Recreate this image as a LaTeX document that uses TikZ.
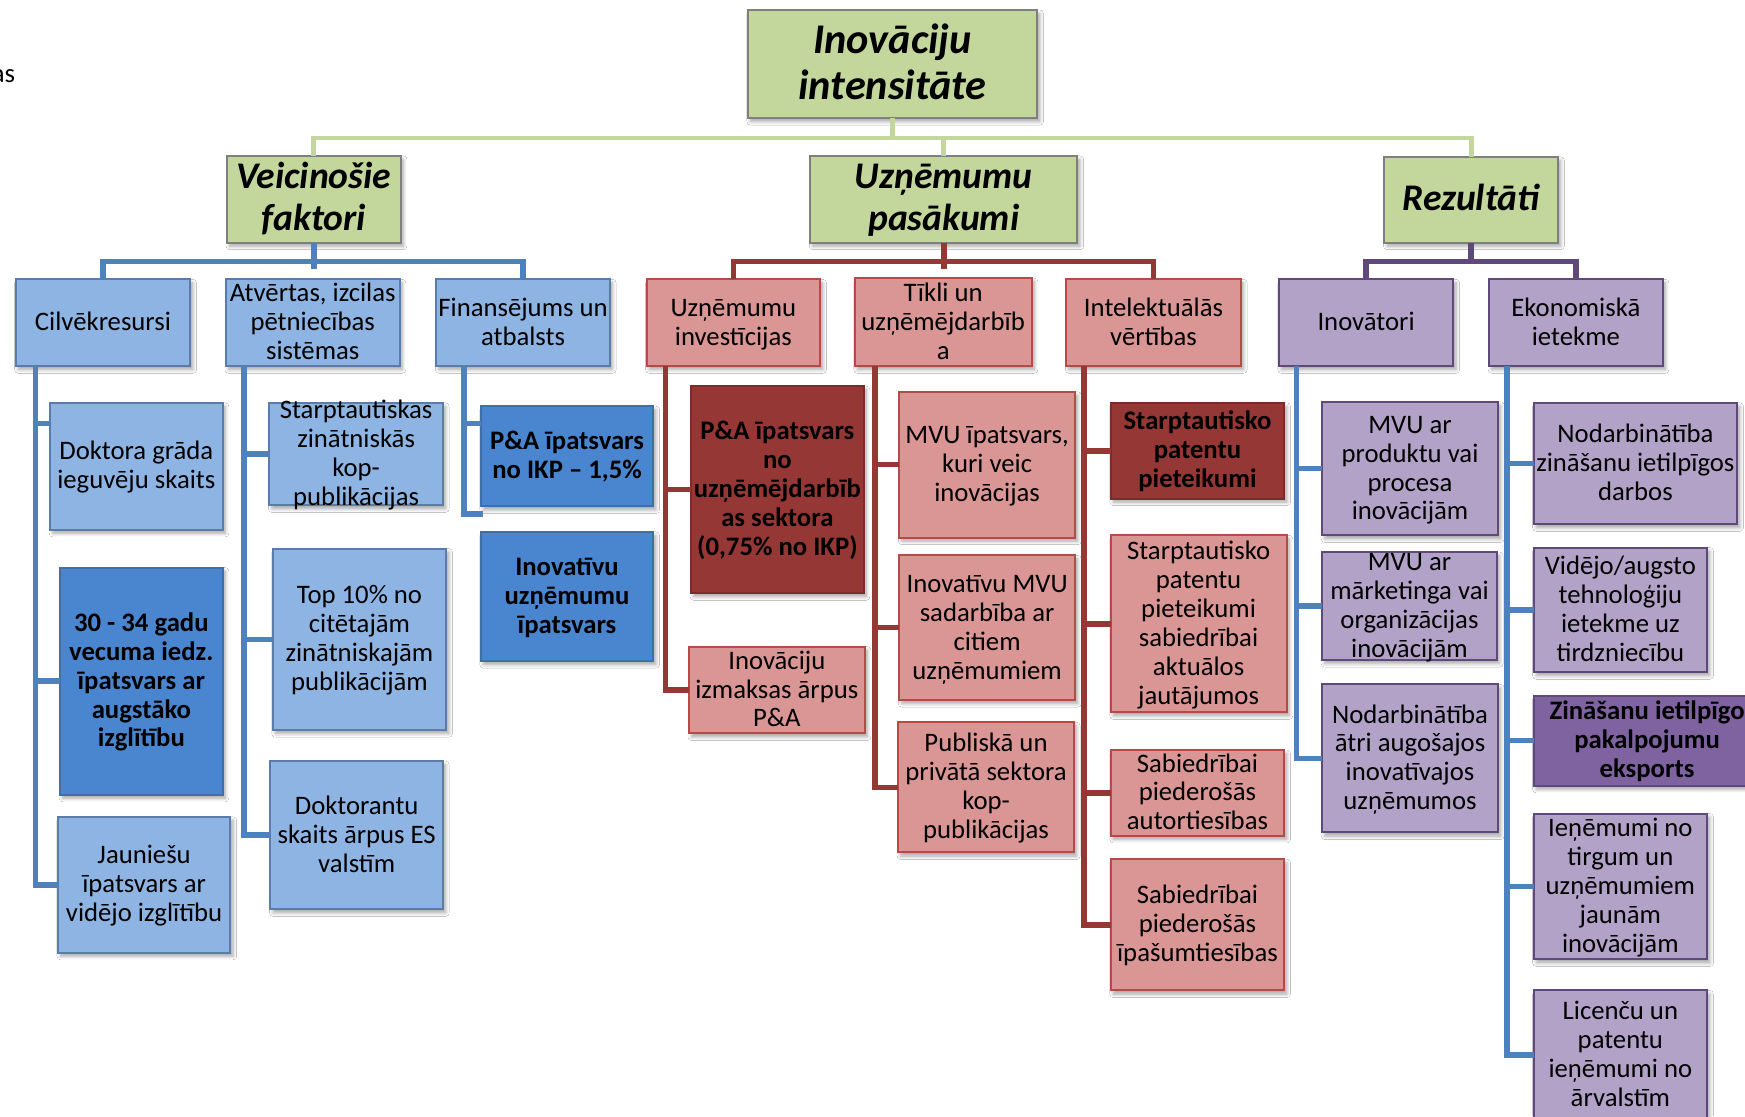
\documentclass[tikz,border=0pt]{standalone}
\usepackage{fontspec}
\setmainfont{Carlito}
\usetikzlibrary{shadows.blur}

% colours
\definecolor{grfill}{HTML}{C3D69B}
\definecolor{grline}{HTML}{C3D69B}
\definecolor{grdraw}{HTML}{7F7F7F}
\definecolor{lbfill}{HTML}{8EB4E3}
\definecolor{lbdraw}{HTML}{5A7CA8}
\definecolor{dbfill}{HTML}{4A86CF}
\definecolor{dbdraw}{HTML}{3F6FA8}
\definecolor{bluln}{HTML}{4F81BD}
\definecolor{pkfill}{HTML}{D99694}
\definecolor{pkdraw}{HTML}{B54A47}
\definecolor{drfill}{HTML}{953735}
\definecolor{drdraw}{HTML}{7A2C2A}
\definecolor{redln}{HTML}{953735}
\definecolor{lpfill}{HTML}{B3A2C7}
\definecolor{lpdraw}{HTML}{5F497A}
\definecolor{dpfill}{HTML}{7F63A1}
\definecolor{purln}{HTML}{5F497A}

\newcommand\fsmall{\fontsize{12}{13}\selectfont}
\newcommand\fhead{\fontsize{16.9}{18.5}\selectfont\bfseries\itshape}
\newcommand\ftop{\fontsize{19}{21}\selectfont\bfseries\itshape}
% centred multi-line text that never enlarges its box
\newcommand\tx[1]{\smash{\raisebox{\dimexpr-0.25em-1pt\relax}{\begin{tabular}{@{}c@{}}#1\end{tabular}}}}
% box given by its corners: style, name, x1, y1, x2, y2, text
\newcommand\boxat[7]{%
  \node[#1, minimum width={(#5-#3)*0.5pt}, minimum height={(#6-#4)*0.5pt}]
    (#2) at ({(#3+#5)/2},{(#4+#6)/2}) {\tx{#7}};}

\tikzset{
  box/.style={draw, line width=0.9pt, inner sep=0pt, outer sep=0pt,
    font=\fsmall,
    blur shadow={shadow xshift=1.2pt, shadow yshift=-1.6pt,
      shadow blur radius=1.6pt, shadow blur steps=6, shadow opacity=35}},
  green/.style={box, fill=grfill, draw=grdraw},
  lblue/.style={box, fill=lbfill, draw=lbdraw},
  dblue/.style={box, fill=dbfill, draw=dbdraw, font=\fsmall\bfseries},
  pink/.style={box, fill=pkfill, draw=pkdraw},
  dred/.style={box, fill=drfill, draw=drdraw, font=\fsmall\bfseries},
  lpurp/.style={box, fill=lpfill, draw=lpdraw},
  dpurp/.style={box, fill=dpfill, draw=lpdraw, font=\fsmall\bfseries},
  gline/.style={draw=grline, line width=2.2pt},
  bline/.style={draw=bluln, line width=2.5pt},
  rline/.style={draw=redln, line width=2.5pt},
  pline/.style={draw=purln, line width=2.5pt},
}

\begin{document}
\begin{tikzpicture}[x=0.5pt, y=-0.5pt]
\useasboundingbox[fill=white] (0,0) rectangle (1568,1003);

\node[font=\fsmall, anchor=base east, inner sep=0pt] (cut) at (14,74) {as};

\coordinate (gbus) at (0,124);
\coordinate (lbus) at (0,235);
\coordinate (stub) at (0,242);

% top levels
\boxat{green, font=\ftop}{top}{672}{9}{932}{106}{Inovāciju\\intensitāte}
\boxat{green, font=\fhead}{vf}{204}{140}{360}{218}{Veicinošie\\faktori}
\boxat{green, font=\fhead}{up}{728}{140}{968}{218}{Uzņēmumu\\pasākumi}
\boxat{green, font=\fhead}{rz}{1244}{141}{1400}{218}{Rezultāti}

% second level
\boxat{lblue}{cilv}{14}{251}{171}{329}{Cilvēkresursi}
\boxat{lblue}{atv}{203}{251}{359}{329}{Atvērtas, izcilas\\pētniecības\\sistēmas}
\boxat{lblue}{fin}{392}{251}{548}{329}{Finansējums un\\atbalsts}
\boxat{pink}{uinv}{581}{251}{737}{329}{Uzņēmumu\\investīcijas}
\boxat{pink}{tikli}{768}{250}{927}{329}{Tīkli un\\uzņēmējdarbīb\\a}
\boxat{pink}{intel}{958}{251}{1115}{329}{Intelektuālās\\vērtības}
\boxat{lpurp}{inov}{1149}{251}{1306}{329}{Inovātori}
\boxat{lpurp}{ekon}{1338}{251}{1494}{329}{Ekonomiskā\\ietekme}

% indicators: human resources
\boxat{lblue}{dok}{45}{362}{200}{476}{Doktora grāda\\ieguvēju skaits}
\boxat{dblue}{age}{54}{510}{200}{714}{30 - 34 gadu\\vecuma iedz.\\īpatsvars ar\\augstāko\\izglītību}
\boxat{lblue}{jaun}{52}{734}{207}{856}{Jauniešu\\īpatsvars ar\\vidējo izglītību}
% research systems
\boxat{lblue}{starp}{242}{362}{398}{454}{Starptautiskas\\zinātniskās\\kop-\\publikācijas}
\boxat{lblue}{top10}{245}{493}{401}{656}{Top 10\% no\\citētajām\\zinātniskajām\\publikācijām}
\boxat{lblue}{dokt}{243}{684}{398}{817}{Doktorantu\\skaits ārpus ES\\valstīm}
% finance and support
\boxat{dblue}{pa}{432}{365}{587}{455}{P\&A īpatsvars\\no IKP – 1,5\%}
\boxat{dblue}{inovu}{432}{478}{587}{594}{Inovatīvu\\uzņēmumu\\īpatsvars}
% firm investments
\boxat{dred}{pau}{621}{347}{776}{533}{P\&A īpatsvars\\no\\uzņēmējdarbīb\\as sektora\\(0,75\% no IKP)}
\boxat{pink}{izm}{619}{581}{777}{659}{Inovāciju\\izmaksas ārpus\\P\&A}
% networks
\boxat{pink}{mvu}{808}{352}{966}{483}{MVU īpatsvars,\\kuri veic\\inovācijas}
\boxat{pink}{imvu}{808}{499}{966}{629}{Inovatīvu MVU\\sadarbība ar\\citiem\\uzņēmumiem}
\boxat{pink}{publ}{807}{649}{965}{766}{Publiskā un\\privātā sektora\\kop-\\publikācijas}
% intellectual assets
\boxat{dred}{spp}{998}{362}{1154}{448}{Starptautisko\\patentu\\pieteikumi}
\boxat{pink}{spps}{998}{481}{1156}{640}{Starptautisko\\patentu\\pieteikumi\\sabiedrībai\\aktuālos\\jautājumos}
\boxat{pink}{sabaut}{998}{674}{1154}{751}{Sabiedrībai\\piederošās\\autortiesības}
\boxat{pink}{sabip}{998}{772}{1154}{890}{Sabiedrībai\\piederošās\\īpašumtiesības}
% innovators
\boxat{lpurp}{mvup}{1188}{361}{1346}{481}{MVU ar\\produktu vai\\procesa\\inovācijām}
\boxat{lpurp}{mvum}{1188}{496}{1345}{593}{MVU ar\\mārketinga vai\\organizācijas\\inovācijām}
\boxat{lpurp}{noda}{1188}{615}{1346}{748}{Nodarbinātība\\ātri augošajos\\inovatīvajos\\uzņēmumos}
% economic effects
\boxat{lpurp}{nodz}{1378}{362}{1561}{471}{Nodarbinātība\\zināšanu ietilpīgos\\darbos}
\boxat{lpurp}{vid}{1378}{492}{1534}{604}{Vidējo/augsto\\tehnoloģiju\\ietekme uz\\tirdzniecību}
\boxat{dpurp}{zin}{1378}{625}{1582}{706}{Zināšanu ietilpīgo\\pakalpojumu\\eksports}
\boxat{lpurp}{ien}{1378}{731}{1534}{862}{Ieņēmumi no\\tirgum un\\uzņēmumiem\\jaunām\\inovācijām}
\boxat{lpurp}{lic}{1378}{890}{1534}{1006}{Licenču un\\patentu\\ieņēmumi no\\ārvalstīm}

% first-level connectors
\draw[gline] (vf.north) -- (vf.north |- gbus) -- (rz.north |- gbus) -- (rz.north);
\draw[gline] (top.south) -- (top.south |- gbus);
\draw[gline] (up.north) -- (up.north |- gbus);

% second-level connectors
\draw[bline] (cilv.north) -- (cilv.north |- lbus) -- (fin.north |- lbus) -- (fin.north);
\draw[bline] (vf.south) -- (vf.south |- stub);
\draw[rline] (uinv.north) -- (uinv.north |- lbus) -- (intel.north |- lbus) -- (intel.north);
\draw[rline] (up.south) -- (up.south |- stub);
\draw[pline] (inov.north) -- (inov.north |- lbus) -- (ekon.north |- lbus) -- (ekon.north);
\draw[pline] (rz.south) -- (rz.south |- lbus);

% indicator spines
\draw[bline] ([xshift=9pt]cilv.south west) |- ([yshift=19.2pt]dok.west);
\draw[bline] ([xshift=9pt]cilv.south west) |- (age.west);
\draw[bline] ([xshift=9pt]cilv.south west) |- (jaun.west);

\draw[bline] ([xshift=8pt]atv.south west) |- (starp.west);
\draw[bline] ([xshift=8pt]atv.south west) |- (top10.west);
\draw[bline] ([xshift=8pt]atv.south west) |- (dokt.west);

\coordinate (finend) at (434,462);
\draw[bline] ([xshift=12.5pt]fin.south west) |- ([yshift=14.7pt]pa.west);
\draw[bline] ([xshift=12.5pt]fin.south west) |- (finend);

\draw[rline] ([xshift=8.5pt]uinv.south west) |- (pau.west);
\draw[rline] ([xshift=8.5pt]uinv.south west) |- (izm.west);

\draw[rline] ([xshift=9pt]tikli.south west) |- (mvu.west);
\draw[rline] ([xshift=9pt]tikli.south west) |- (imvu.west);
\draw[rline] ([xshift=9pt]tikli.south west) |- (publ.west);

\draw[rline] ([xshift=8pt]intel.south west) |- (spp.west);
\draw[rline] ([xshift=8pt]intel.south west) |- (spps.west);
\draw[rline] ([xshift=8pt]intel.south west) |- (sabaut.west);
\draw[rline] ([xshift=8pt]intel.south west) |- (sabip.west);

\draw[bline] ([xshift=8pt]inov.south west) |- (mvup.west);
\draw[bline] ([xshift=8pt]inov.south west) |- (mvum.west);
\draw[bline] ([xshift=8pt]inov.south west) |- (noda.west);

\draw[bline] ([xshift=8pt]ekon.south west) |- (nodz.west);
\draw[bline] ([xshift=8pt]ekon.south west) |- (vid.west);
\draw[bline] ([xshift=8pt]ekon.south west) |- (zin.west);
\draw[bline] ([xshift=8pt]ekon.south west) |- (ien.west);
\draw[bline] ([xshift=8pt]ekon.south west) |- (lic.west);
\end{tikzpicture}
\end{document}
